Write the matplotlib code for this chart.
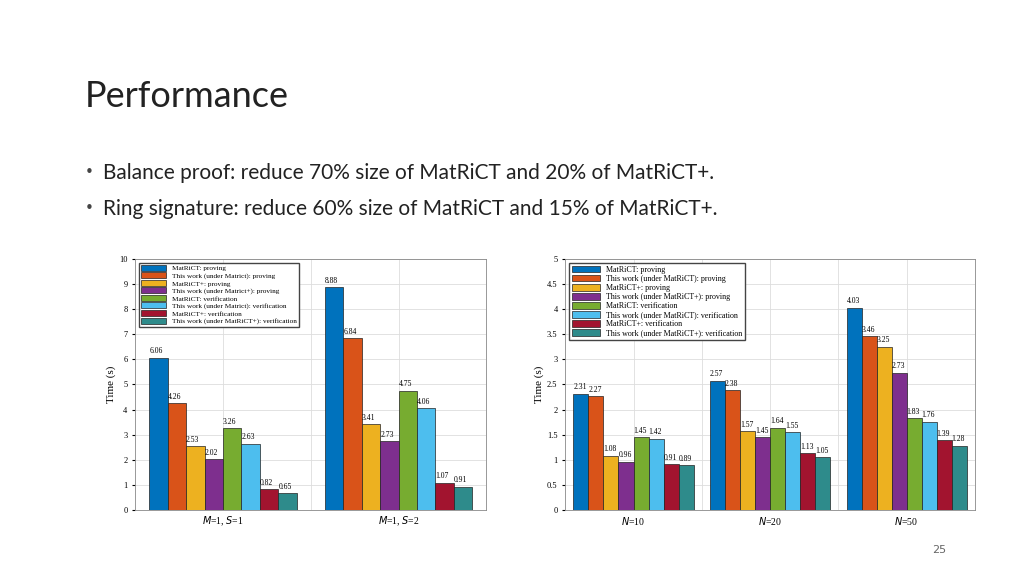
import numpy as np
import matplotlib.pyplot as plt

# Left chart: M/S settings
left_groups = ["$M$=1, $S$=1", "$M$=1, $S$=2"]
left_values = [
    [6.06, 8.88], [4.26, 6.84], [2.53, 3.41], [2.02, 2.73],
    [3.26, 4.75], [2.63, 4.06], [0.82, 1.07], [0.65, 0.91],
]
left_labels = [
    "MatRiCT: proving", "This work (under Matrict): proving",
    "MatRiCT+: proving", "This work (under Matrict+): proving",
    "MatRiCT: verification", "This work (under Matrict): verification",
    "MatRiCT+: verification", "This work (under MatRiCT+): verification",
]

# Right chart: ring size N
right_groups = ["$N$=10", "$N$=20", "$N$=50"]
right_values = [
    [2.31, 2.57, 4.03], [2.27, 2.38, 3.46], [1.08, 1.57, 3.25], [0.96, 1.45, 2.73],
    [1.45, 1.64, 1.83], [1.42, 1.55, 1.76], [0.91, 1.13, 1.39], [0.89, 1.05, 1.28],
]
right_labels = [
    "MatRiCT: proving", "This work (under MatRiCT): proving",
    "MatRiCT+: proving", "This work (under MatRiCT+): proving",
    "MatRiCT: verification", "This work (under MatRiCT): verification",
    "MatRiCT+: verification", "This work (under MatRiCT+): verification",
]

colors = ["#0072BD", "#D95319", "#EDB120", "#7E2F8E",
          "#77AC30", "#4DBEEE", "#A2142F", "#2E8B8B"]

bullets = [
    "Balance proof: reduce 70% size of MatRiCT and 20% of MatRiCT+.",
    "Ring signature: reduce 60% size of MatRiCT and 15% of MatRiCT+.",
]

fig = plt.figure(figsize=(10.24, 5.76), dpi=100)
fig.patch.set_facecolor("white")
fig.text(0.083, 0.815, "Performance", fontsize=26, family="Lato", color="#222222")
for i, b in enumerate(bullets):
    y = 0.70 - i * 0.062
    fig.text(0.083, y, "•", fontsize=11, color="#444444", va="center")
    fig.text(0.101, y, b, fontsize=15, family="Lato", color="#222222", va="center")
fig.text(0.91, 0.04, "25", fontsize=8, color="#666666")


def draw(ax, groups, values, labels, ymax, yticks, legend_loc, fs, w):
    n = len(values)
    x = np.arange(len(groups))
    for i, vals in enumerate(values):
        pos = x + (i - (n - 1) / 2) * w
        ax.bar(pos, vals, w, color=colors[i], edgecolor="#222222", linewidth=0.5, label=labels[i])
        for p, v in zip(pos, vals):
            ax.text(p - w * 0.5, v + ymax * 0.01, f"{v:.2f}", fontsize=5.5,
                    family="Liberation Serif", ha="left", va="bottom")
    ax.set_xlim(-0.5, len(groups) - 0.5)
    ax.set_ylim(0, ymax)
    ax.set_yticks(yticks)
    ax.set_xticks(x)
    ax.set_xticklabels(groups, fontsize=7, family="Liberation Serif")
    ax.tick_params(axis="y", labelsize=6, length=2)
    ax.tick_params(axis="x", length=0)
    for t in ax.get_yticklabels():
        t.set_family("Liberation Serif")
    ax.set_ylabel("Time (s)", fontsize=8, family="Liberation Serif", labelpad=2)
    ax.grid(True, color="#dddddd", linewidth=0.6)
    ax.set_axisbelow(True)
    for xb in x[:-1] + 0.5:
        ax.axvline(xb, color="#dddddd", linewidth=0.6, zorder=0)
    for s in ax.spines.values():
        s.set_color("#888888")
        s.set_linewidth(0.6)
    ax.legend(loc=legend_loc, prop={"family": "Liberation Serif", "size": fs},
              handlelength=3.5, handleheight=0.9, labelspacing=0.12, borderpad=0.3,
              framealpha=1, edgecolor="#444444", fancybox=False)


ax1 = fig.add_axes([0.132, 0.115, 0.343, 0.435])
draw(ax1, left_groups, left_values, left_labels, 10, range(0, 11), "upper left", 5.2, 0.105)
ax2 = fig.add_axes([0.552, 0.115, 0.4, 0.435])
draw(ax2, right_groups, right_values, right_labels, 5, np.arange(0, 5.5, 0.5), "upper left", 5.8, 0.11)
ax2.set_yticklabels(["0", "0.5", "1", "1.5", "2", "2.5", "3", "3.5", "4", "4.5", "5"])

fig.savefig("out.png", dpi=100)
